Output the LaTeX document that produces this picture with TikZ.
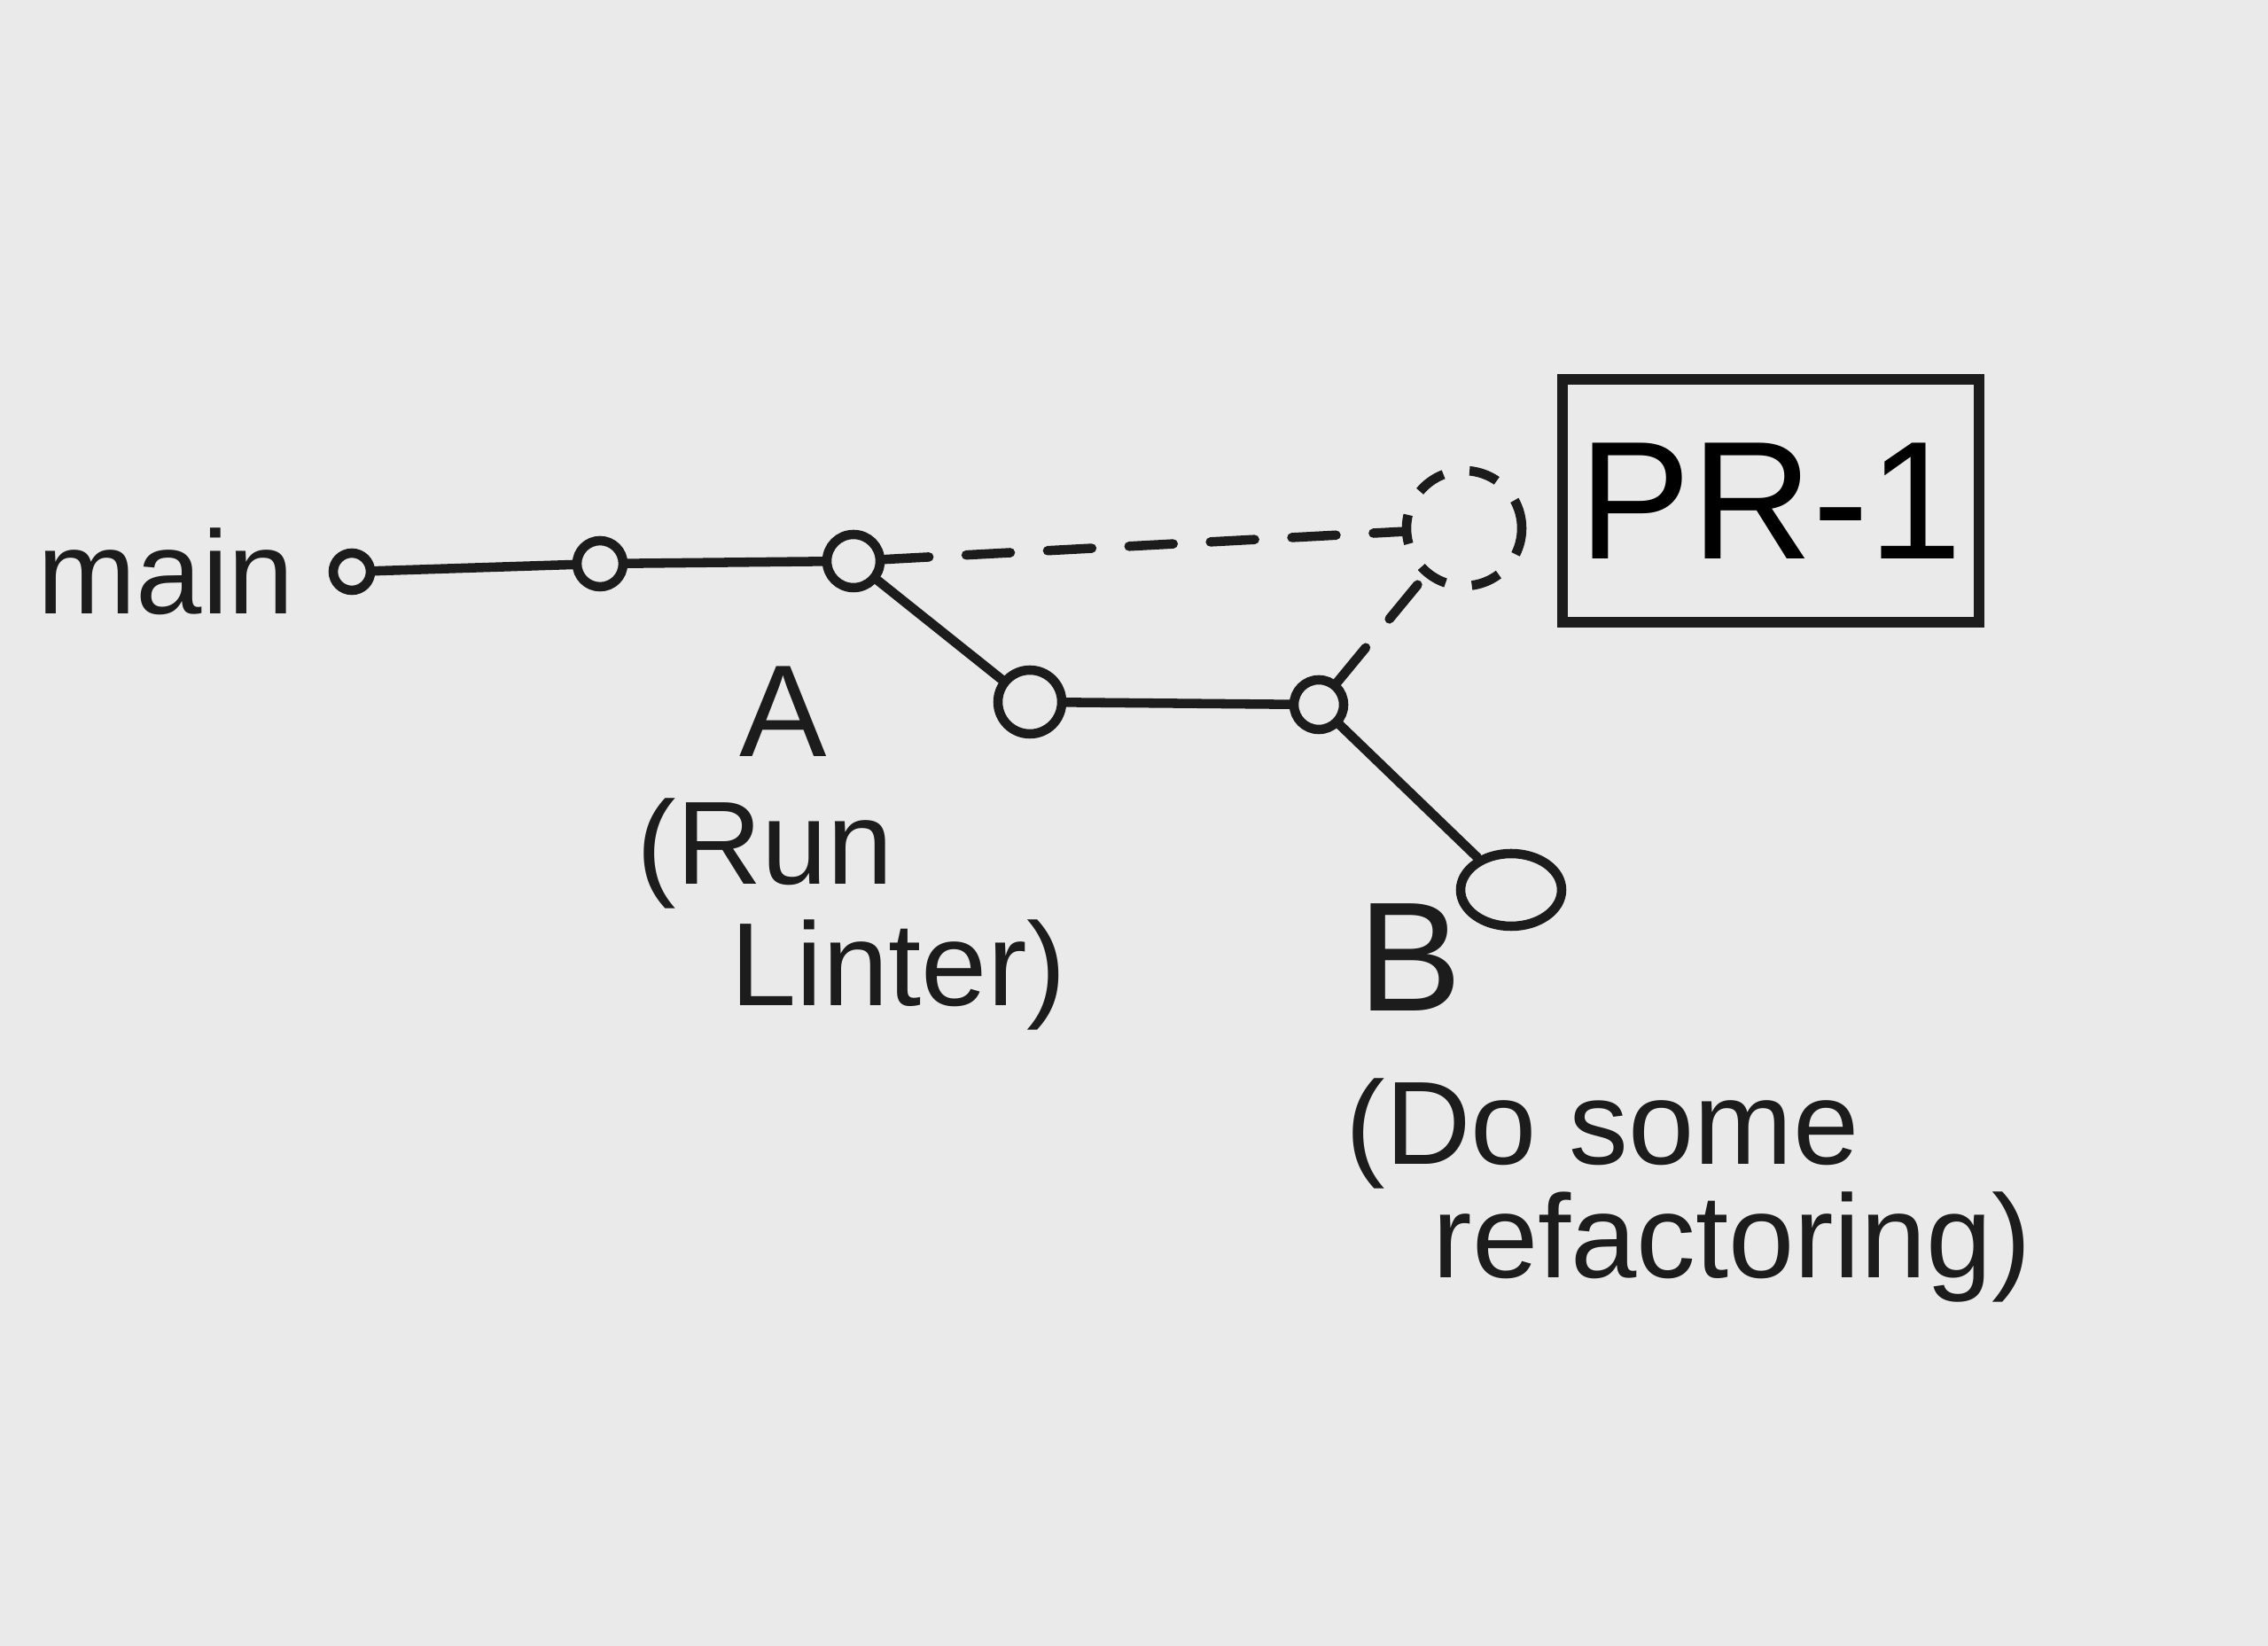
\documentclass[tikz,border=0pt]{standalone}
\usepackage{fontspec}
\setmainfont{Liberation Sans}
\usetikzlibrary{positioning, shapes.geometric}
\usepackage{xcolor}
\definecolor{paper}{RGB}{234,234,234}
\definecolor{ink}{RGB}{28,28,28}

\begin{document}
\begin{tikzpicture}[
                node distance=0.3cm,
                commit/.style={circle, draw=ink, line width=3pt, inner sep=0pt},
                ghost/.style={circle, draw=ink, line width=3pt, dash pattern=on 0.33cm off 0.3cm, minimum size=1.3cm},
                tag/.style={rectangle, draw=ink, line width=3.4pt, minimum width=4.7cm, minimum height=2.74cm, font=\fontsize{54}{60}\selectfont},
                label/.style={text=ink, align=left, inner sep=0pt, font=\fontsize{38}{40}\selectfont},
                link/.style={line width=3pt, ink, line cap=round},
                pending/.style={line width=3pt, ink, line cap=round, dash pattern=on 0.5cm off 0.42cm}
            ]
            \fill[paper] (0,0) rectangle (25.59,-18.57);
            \useasboundingbox (0,0) rectangle (25.59,-18.57);

            % main branch
            \node[commit, minimum size=0.42cm] (c1) at (3.97,-6.45) {};
            \node[commit, minimum size=0.52cm] (c2) at (6.77,-6.36) {};
            \node[commit, minimum size=0.6cm] (ca) at (9.63,-6.33) {};
            \node[label, left=0.38cm of c1] (main) {main};

            % feature branch
            \node[commit, minimum size=0.72cm] (c4) at (11.62,-7.92) {};
            \node[commit, minimum size=0.56cm] (c5) at (14.88,-7.95) {};
            \node[ellipse, draw=ink, line width=3pt, minimum width=1.14cm, minimum height=0.82cm] (cb) at (17.05,-10.04) {};

            % pull request
            \node[ghost] (merge) at (16.52,-5.96) {};
            \node[tag] (pr) at (19.98,-5.65) {PR-1};

            % labels
            \node[label, font=\fontsize{42}{44}\selectfont] (la) at (8.84,-8.03) {A};
            \node[label, anchor=north west, font=\fontsize{38}{39}\selectfont] (lrun) at (7.18,-9.0) {(Run\\ \hspace*{1.06cm}Linter)};
            \node[label, font=\fontsize{50}{56}\selectfont] (lb) at (15.91,-10.80) {B};
            \node[label, anchor=north west, font=\fontsize{38}{33}\selectfont] (lref) at (15.18,-12.16) {(Do some\\ \hspace*{0.98cm}refactoring)};

            % Arrows
            \draw[link] (c1) -- (c2);
            \draw[link] (c2) -- (ca);
            \draw[link] (ca) -- (c4);
            \draw[link] (c4) -- (c5);
            \draw[link] (c5) -- (cb);
            \draw[pending] (ca) -- (merge);
            \draw[pending] (c5) -- (merge);
        \end{tikzpicture}
\end{document}
